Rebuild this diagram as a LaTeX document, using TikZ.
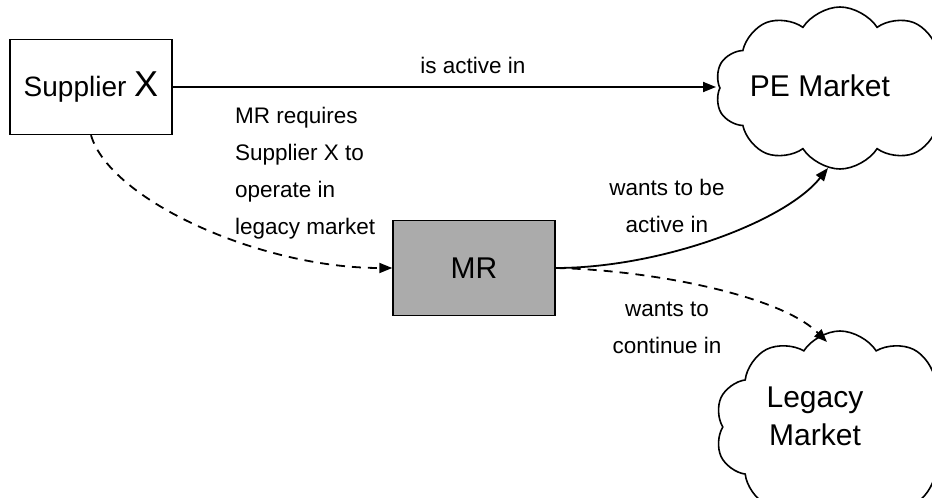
\documentclass[tikz,border=0pt]{standalone}
\usepackage{fontspec}
\setmainfont{Liberation Sans}
\usetikzlibrary{shapes.symbols,arrows.meta}

\tikzset{
  box/.style={draw=black, line width=1.4pt, minimum width=162pt, minimum height=95pt, inner sep=0pt},
  market/.style={cloud, cloud puffs=10, cloud puff arc=115, cloud ignores aspect, draw=black, line width=1.6pt,
                 fill=white, inner sep=0pt},
  cloudtext/.style={font=\fontsize{30}{38}\selectfont, align=center, inner sep=0pt},
  link/.style={line width=1.8pt, -{Triangle[length=13pt,width=10pt]}},
  dashlink/.style={link, dash pattern=on 9pt off 7pt},
  lbl/.style={font=\fontsize{22.5}{37}\selectfont, inner sep=0pt},
}

\begin{document}
\begin{tikzpicture}[x=1pt,y=-1pt]
  \useasboundingbox (0,0) rectangle (932,498);
  \clip (0,0) rectangle (932,498);

  % entities
  \node[box, font=\fontsize{28}{30}\selectfont] (sup) at (91,87) {Supplier {\fontsize{36}{38}\selectfont X}};
  \node[box, fill=black!33] (mr) at (474,268) {\fontsize{30}{32}\selectfont MR};
  \node[market, minimum width=250pt, minimum height=162pt] (pe) at (840,88) {};
  \node[cloudtext] (peText) at (820,86) {PE Market};
  \node[market, minimum width=250pt, minimum height=192pt] (legacy) at (840,427) {};
  \node[cloudtext] (legText) at (815,416) {Legacy\\Market};

  % anchor points on the clouds
  \coordinate (peL) at (716,87);
  \coordinate (peB) at (828,168);
  \coordinate (legT) at (827,342);

  % relations
  \draw[link] (sup.east |- peL) -- (peL);
  \draw[dashlink] (sup.south) .. controls (110,200) and (260,268) .. (mr.west);
  \draw[link] (mr.east) .. controls (660,268) and (785,222) .. (peB);
  \draw[dashlink] (mr.east) .. controls (650,270) and (780,295) .. (legT);

  % relation labels
  \node[lbl] (lActive) at (473,65) {is active in};
  \node[lbl, align=left, anchor=west] (lReq) at (235,173) {MR requires\\Supplier X to\\operate in\\legacy market};
  \node[lbl, align=center] (lWants) at (667,206) {wants to be\\active in};
  \node[lbl, align=center] (lCont) at (667,328) {wants to\\continue in};
\end{tikzpicture}
\end{document}
